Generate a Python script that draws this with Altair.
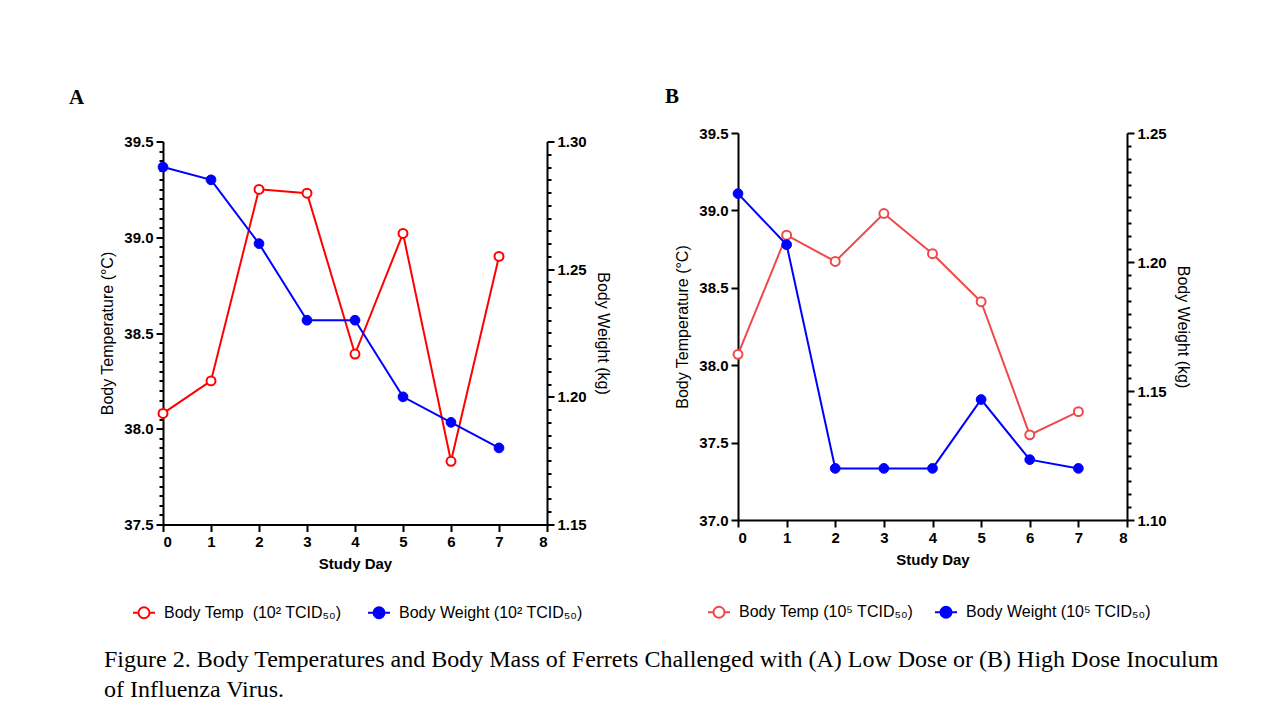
import altair as alt
import pandas as pd

# ---------------- data ----------------
days = [0, 1, 2, 3, 4, 5, 6, 7]
temp_a = [38.08, 38.25, 39.25, 39.23, 38.39, 39.02, 37.83, 38.90]
weight_a = [1.290, 1.285, 1.260, 1.230, 1.230, 1.200, 1.190, 1.180]
temp_b = [38.07, 38.84, 38.67, 38.98, 38.72, 38.41, 37.55, 37.70]
weight_b = [1.2265, 1.2067, 1.120, 1.120, 1.120, 1.1467, 1.1234, 1.120]

temp_label_a = "Body Temp\u00a0 (10\u00b2 TCID\u2085\u2080)"
weight_label_a = "Body Weight (10\u00b2 TCID\u2085\u2080)"
temp_label_b = "Body Temp (10\u2075 TCID\u2085\u2080)"
weight_label_b = "Body Weight (10\u2075 TCID\u2085\u2080)"

x_ticks = [0, 1, 2, 3, 4, 5, 6, 7, 8]
temp_ticks_a = [round(37.5 + 0.05 * i, 2) for i in range(41)]
weight_ticks_a = [round(1.15 + 0.005 * i, 3) for i in range(31)]
temp_ticks_b = [37.0, 37.5, 38.0, 38.5, 39.0, 39.5]
weight_ticks_b = [round(1.10 + 0.005 * i, 3) for i in range(31)]

caption = [
    "Figure 2. Body Temperatures and Body Mass of Ferrets Challenged with (A) Low Dose or (B) High Dose Inoculum",
    "of Influenza Virus.",
]

SANS = "Liberation Sans"
SERIF = "Liberation Serif"
SYMBOL = "M-1,0L-0.5,0M0.5,0L1,0M-0.5,0A0.5,0.5,0,1,1,0.5,0A0.5,0.5,0,1,1,-0.5,0Z"


def major_test(mult):
    return f"abs(datum.value*{mult} - round(datum.value*{mult})) < 0.001"


def panel(letter, temps, weights, temp_dom, weight_dom, temp_ticks, weight_ticks,
          temp_mult, weight_mult, temp_fmt, weight_fmt, temp_label, weight_label,
          red, blue, w, h, title_dx, title_offset, leg_x, leg_y, leg_pad, col_pad):
    df_t = pd.DataFrame({"day": days, "value": temps, "series": temp_label})
    df_w = pd.DataFrame({"day": days, "value": weights, "series": weight_label})

    def legend():
        return alt.Legend(
            title=None, orient="none", legendX=leg_x, legendY=leg_y, padding=leg_pad,
            direction="horizontal", symbolType=SYMBOL, symbolSize=484,
            symbolStrokeWidth=2, symbolOpacity=1, labelFont=SANS, labelFontSize=16,
            labelColor="black", columnPadding=col_pad, labelOffset=8, labelLimit=400,
        )

    dom = [temp_label, weight_label]
    stroke = alt.Stroke("series:N", scale=alt.Scale(domain=dom, range=[red, blue]),
                        legend=legend())
    fill = alt.Fill("series:N", scale=alt.Scale(domain=dom, range=["white", blue]),
                    legend=legend())
    x = alt.X("day:Q", scale=alt.Scale(domain=[0, 8], nice=False),
              axis=alt.Axis(values=x_ticks, format="d", title="Study Day",
                            titleFontWeight="bold", titleFontSize=15, titlePadding=7,
                            tickSize=7))
    y_t = alt.Y("value:Q", scale=alt.Scale(domain=temp_dom, nice=False, zero=False),
                axis=alt.Axis(orient="left", values=temp_ticks, labelOverlap=False,
                              labelExpr=f"{major_test(temp_mult)} ? format(datum.value, '{temp_fmt}') : ''",
                              tickSize={"condition": {"test": major_test(temp_mult), "value": 7}, "value": 4},
                              title="Body Temperature (\u00b0C)", titlePadding=8))
    y_w = alt.Y("value:Q", scale=alt.Scale(domain=weight_dom, nice=False, zero=False),
                axis=alt.Axis(orient="right", values=weight_ticks, labelOverlap=False,
                              labelExpr=f"{major_test(weight_mult)} ? format(datum.value, '{weight_fmt}') : ''",
                              tickSize={"condition": {"test": major_test(weight_mult), "value": 7}, "value": 4},
                              title="Body Weight (kg)", titlePadding=8, titleAngle=90))

    t_line = alt.Chart(df_t).mark_line(strokeWidth=2).encode(x=x, y=y_t, stroke=stroke)
    t_pts = alt.Chart(df_t).mark_point(shape="circle", size=80, strokeWidth=2,
                                       opacity=1).encode(x=x, y=y_t, stroke=stroke, fill=fill)
    w_line = alt.Chart(df_w).mark_line(strokeWidth=2).encode(x=x, y=y_w, stroke=stroke)
    w_pts = alt.Chart(df_w).mark_point(shape="circle", size=95, strokeWidth=1,
                                       opacity=1).encode(x=x, y=y_w, stroke=stroke, fill=fill)

    temp_layer = alt.layer(t_line, t_pts)
    weight_layer = alt.layer(w_line, w_pts)
    return alt.layer(temp_layer, weight_layer).resolve_scale(y="independent").properties(
        width=w, height=h,
        title=alt.Title(letter, anchor="start", frame="group", dx=title_dx,
                        offset=title_offset, font=SERIF, fontSize=21,
                        fontWeight="bold", color="black"),
    )


pa = panel("A", temp_a, weight_a, [37.5, 39.5], [1.15, 1.30], temp_ticks_a, weight_ticks_a,
           2, 20, ".1f", ".2f", temp_label_a, weight_label_a, "#FF0000", "#0000FF",
           384, 383, -94, 27, -31, 459, 0, 22)
pb = panel("B", temp_b, weight_b, [37.0, 39.5], [1.10, 1.25], temp_ticks_b, weight_ticks_b,
           2, 20, ".1f", ".2f", temp_label_b, weight_label_b, "#F04848", "#0000FF",
           389, 387, -73, 19, -40, 458, 9, 17)

chart = alt.hconcat(pa, pb, spacing=54, center=True).resolve_scale(
    stroke="independent", fill="independent"
).resolve_legend(stroke="independent", fill="independent").properties(
    title=alt.Title(caption, orient="bottom", anchor="start", font=SERIF, fontSize=24,
                    fontWeight="normal", color="black", lineHeight=30, offset=17, dx=35),
    padding={"left": 69, "top": 86, "right": 5, "bottom": 5},
).configure_view(stroke=None).configure_axis(
    domainColor="black", domainWidth=2, tickColor="black", tickWidth=2,
    labelFont=SANS, labelFontSize=15, labelFontWeight="bold", labelColor="black",
    labelPadding=3, titleFont=SANS, titleFontSize=16, titleFontWeight="normal",
    titleColor="black", grid=False,
)

chart.save("out.html", embed_options={"renderer": "svg", "actions": False})
